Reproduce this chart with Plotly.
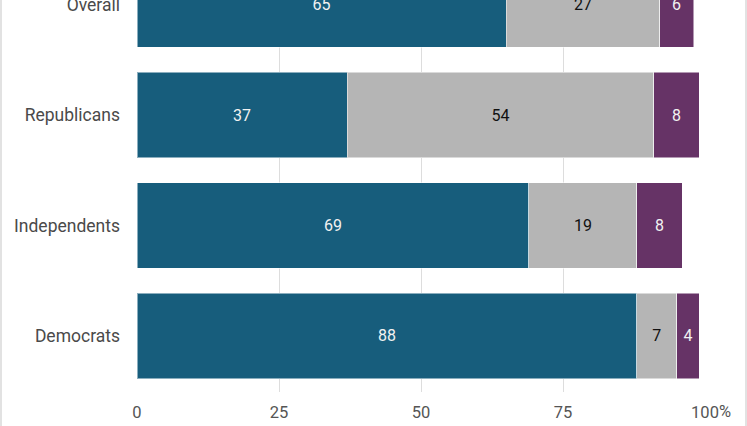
import plotly.graph_objects as go

categories = ["Democrats", "Independents", "Republicans", "Overall"]
series_a = [88, 69, 37, 65]   # blue
series_b = [7, 19, 54, 27]    # gray
series_c = [4, 8, 8, 6]       # purple
tick_vals = [0, 25, 50, 75, 100]
tick_text = ["0", "25", "50", "75", "100"]

colors = ["#175d7c", "#b5b5b5", "#663366"]
text_colors = ["#f2f2f2", "#111111", "#f2f2f2"]

W, H = 747, 426
ML, MR, MT, MB = 137, 42, 0, 34

fig = go.Figure()
for vals, c, tc in zip([series_a, series_b, series_c], colors, text_colors):
    fig.add_trace(go.Bar(
        y=categories, x=vals, orientation="h",
        marker=dict(color=c, line=dict(color="rgba(255,255,255,0.5)", width=1)),
        text=[str(v) for v in vals], textposition="inside",
        insidetextanchor="middle",
        textfont=dict(family="Roboto", size=16, color=tc),
        hoverinfo="skip", showlegend=False,
    ))

pw = W - ML - MR
ph = H - MT - MB
fig.update_layout(
    width=W, height=H, barmode="stack", bargap=0.23,
    margin=dict(l=ML, r=MR, t=MT, b=MB, pad=0, autoexpand=False),
    paper_bgcolor="white", plot_bgcolor="white",
    font=dict(family="Roboto", size=16, color="#555555"),
    uniformtext=dict(minsize=10, mode="show"),
    xaxis=dict(range=[0, 100], tickvals=tick_vals, ticktext=tick_text,
               showgrid=True, gridcolor="#dddddd", gridwidth=1,
               zeroline=False, showline=False, ticks="", automargin=False,
               ticklabelstandoff=8,
               tickfont=dict(family="Roboto", size=16.5, color="#555555")),
    yaxis=dict(type="category", categoryorder="array", categoryarray=categories,
               range=[-0.507, 3.041], showgrid=False, zeroline=False,
               showline=False, ticks="", automargin=False, ticklabelstandoff=16,
               tickfont=dict(family="Roboto", size=17.5, color="#4a4a4a")),
    annotations=[dict(x=100, y=0, xref="x", yref="paper", text="%",
                      showarrow=False, xanchor="left", yanchor="top",
                      xshift=12, yshift=-8,
                      font=dict(family="Roboto", size=16.5, color="#555555"))],
    shapes=[
        dict(type="line", xref="paper", yref="paper",
             x0=(1 - ML) / pw, x1=(1 - ML) / pw, y0=-MB / ph - 0.1, y1=1.1,
             line=dict(color="#d9d9d9", width=1.5)),
        dict(type="line", xref="paper", yref="paper",
             x0=(746 - ML) / pw, x1=(746 - ML) / pw, y0=-MB / ph - 0.1, y1=1.1,
             line=dict(color="#d9d9d9", width=1.5)),
    ],
)

fig.write_html(
    "out.html",
    config={"displayModeBar": False},
    post_script="document.body.style.margin='0';document.body.style.overflow='hidden';",
)
